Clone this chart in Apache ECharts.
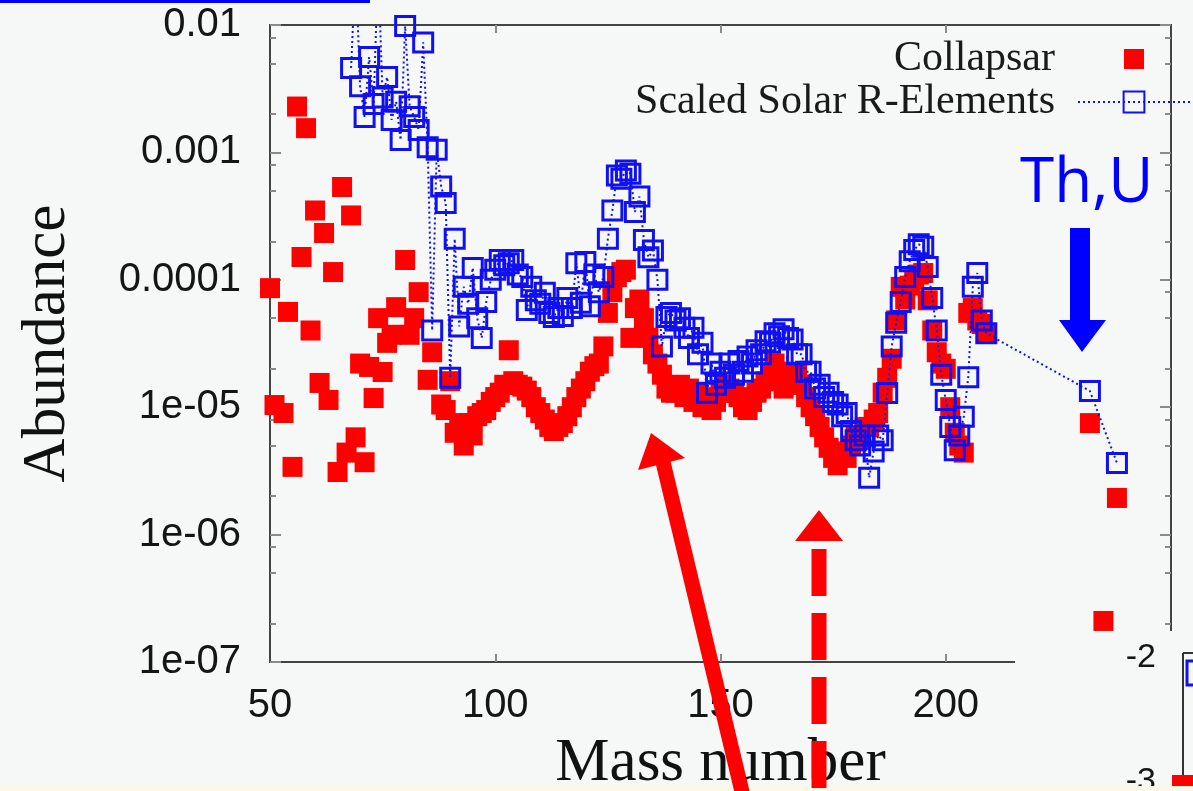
<!DOCTYPE html>
<html>
<head>
<meta charset="utf-8">
<script src="https://cdn.jsdelivr.net/npm/echarts@6.0.0/dist/echarts.min.js"></script>
<style>
html,body{margin:0;padding:0;background:#f5f8f6;}
#chart{width:1193px;height:791px;}
</style>
</head>
<body>
<div id="chart"></div>
<script>
// ---- data ----
const collA = [50,51,53,54,55,56,57,58,59,60,61,62,63,64,65,66,67,68,69,70,71,72,73,74,75,76,77,78,80,81,82,83,85,86,88,89,90,91,
  92,93,94,95,96,97,98,99,100,101,102,103,104,105,106,107,108,109,110,111,112,113,114,115,116,117,118,119,120,121,122,123,
  124,125,126,127,128,129,130,131,132,133,134,135,136,137,138,139,
  140,141,142,143,144,145,146,147,148,149,150,151,152,153,154,155,156,157,158,159,160,161,162,163,164,165,166,167,168,169,
  170,171,172,173,174,175,176,177,178,179,180,181,182,183,184,185,186,187,188,189,190,191,192,193,194,195,196,197,198,199,
  200,201,202,203,204,205,206,207,208,209,232,235,238];
const collV = [8.6e-5,1.04e-5,9.0e-6,5.6e-5,3.4e-6,2.29e-3,1.51e-4,1.55e-3,4.0e-5,3.5e-4,1.55e-5,2.33e-4,1.14e-5,1.15e-4,3.1e-6,5.35e-4,4.4e-6,3.2e-4,5.8e-6,2.2e-5,3.7e-6,2.07e-5,1.18e-5,5.0e-5,1.89e-5,3.2e-5,3.7e-5,6.1e-5,1.43e-4,3.7e-5,5.0e-5,8.0e-5,1.64e-5,2.7e-5,1.05e-5,9.5e-6,1.6e-5,6.3e-6,
  7.5e-6,5.0e-6,7.5e-6,6.0e-6,8.5e-6,9.0e-6,9.5e-6,1.1e-5,1.2e-5,1.3e-5,1.5e-5,2.8e-5,1.6e-5,1.5e-5,1.45e-5,1.35e-5,1.2e-5,1.0e-5,9.0e-6,8.0e-6,7.0e-6,6.5e-6,7.0e-6,7.5e-6,8.5e-6,1.0e-5,1.2e-5,1.4e-5,1.6e-5,1.9e-5,2.1e-5,2.2e-5,
  3.0e-5,5.5e-5,8.0e-5,1.05e-4,1.15e-4,1.2e-4,3.5e-5,6.0e-5,7.0e-5,5.0e-5,3.5e-5,2.6e-5,2.2e-5,1.8e-5,1.4e-5,1.3e-5,
  1.3e-5,1.5e-5,1.2e-5,1.4e-5,1.1e-5,1.3e-5,1.0e-5,1.2e-5,9.5e-6,1.1e-5,1.3e-5,1.5e-5,1.4e-5,1.3e-5,1.2e-5,1.0e-5,9.5e-6,1.1e-5,1.3e-5,1.4e-5,1.6e-5,1.8e-5,2.2e-5,1.6e-5,1.4e-5,1.5e-5,1.9e-5,1.8e-5,1.5e-5,1.2e-5,
  1.0e-5,8.5e-6,7.0e-6,5.8e-6,4.8e-6,4.0e-6,3.5e-6,4.5e-6,4.0e-6,5.0e-6,6.0e-6,5.5e-6,7.0e-6,7.0e-6,8.0e-6,9.0e-6,1.3e-5,1.7e-5,2.4e-5,4.8e-5,8.8e-5,7.0e-5,9.0e-5,1.0e-4,1.1e-4,1.13e-4,6.9e-5,4.0e-5,2.7e-5,2.2e-5,
  2.0e-5,1.0e-5,6.3e-6,5.0e-6,4.4e-6,5.5e-5,6.0e-5,4.8e-5,4.5e-5,3.8e-5,7.5e-6,2.1e-7,1.94e-6];

const solarA = [68,69,70,71,72,73,74,75,76,77,78,79,80,81,82,83,84,85,86,87,88,89,90,91,92,
  93,94,95,96,97,98,99,100,101,102,103,104,105,106,107,108,109,110,111,112,113,114,115,116,117,118,119,120,121,122,123,124,
  125,126,127,128,129,130,131,132,133,134,135,136,
  137,138,139,140,141,142,143,144,145,146,147,148,149,150,151,152,153,154,155,156,157,158,159,160,161,162,163,164,165,166,167,168,169,
  170,171,172,173,174,175,176,177,178,179,180,181,182,183,184,185,186,187,188,189,190,191,192,193,194,195,196,197,198,199,
  200,201,202,203,204,205,206,207,208,209,232,238];
const solarV = [4.6e-3,3.0e-2,3.3e-3,1.9e-3,5.6e-3,2.4e-3,3.0e-2,2.7e-3,3.9e-3,1.8e-3,2.5e-3,1.25e-3,9.8e-3,2.3e-3,1.9e-3,1.5e-3,7.3e-3,1.1e-3,4.0e-5,1.05e-3,5.4e-4,4.0e-4,1.7e-5,2.1e-4,4.3e-5,
  8.8e-5,6.5e-5,1.24e-4,5.0e-5,3.5e-5,6.7e-5,1.0e-4,1.2e-4,1.43e-4,1.3e-4,1.35e-4,1.43e-4,1.1e-4,1.05e-4,5.8e-5,8.8e-5,6.9e-5,6.5e-5,7.9e-5,5.5e-5,5.1e-5,6.0e-5,5.2e-5,7.2e-5,6.0e-5,1.35e-4,6.6e-5,1.38e-4,6.2e-5,1.1e-4,8.0e-5,1.05e-4,
  2.1e-4,3.5e-4,6.6e-4,6.2e-4,7.2e-4,6.8e-4,3.4e-4,4.5e-4,2.05e-4,1.5e-4,1.7e-4,1.0e-4,
  3.0e-5,5.1e-5,5.5e-5,4.8e-5,5.0e-5,4.2e-5,3.5e-5,4.2e-5,2.6e-5,3.2e-5,1.3e-5,2.2e-5,1.5e-5,1.9e-5,1.7e-5,2.2e-5,1.8e-5,2.3e-5,1.9e-5,2.5e-5,2.2e-5,2.8e-5,2.6e-5,3.3e-5,3.2e-5,3.8e-5,3.6e-5,4.1e-5,3.5e-5,3.4e-5,2.6e-5,2.6e-5,1.9e-5,
  1.9e-5,1.4e-5,1.5e-5,1.2e-5,1.3e-5,1.1e-5,1.05e-5,8.5e-6,9.0e-6,6.5e-6,5.5e-6,5.0e-6,6.0e-6,2.8e-6,4.5e-6,6.0e-6,5.5e-6,1.29e-5,3.0e-5,4.6e-5,6.7e-5,1.05e-4,1.4e-4,1.71e-4,1.9e-4,1.82e-4,1.26e-4,7.2e-5,4.0e-5,1.8e-5,
  1.14e-5,7.0e-6,4.6e-6,6.0e-6,8.4e-6,1.72e-5,8.8e-5,1.13e-4,4.8e-5,3.8e-5,1.34e-5,3.65e-6];

const xTickValues = [50, 100, 150, 200];
const xInnerTicks = [100, 150, 200];
const yTickValues = [1e-7, 1e-6, 1e-5, 1e-4, 1e-3, 1e-2];
const yTickLabels = ['1e-07', '1e-06', '1e-05', '0.0001', '0.001', '0.01'];
const yMinorTicks = [2e-7,5e-7,8e-7,2e-6,5e-6,8e-6,2e-5,5e-5,8e-5,2e-4,5e-4,8e-4,2e-3,5e-3,8e-3];

const collData = collA.map((a, i) => [a, collV[i]]);
const solarData = solarA.map((a, i) => [a, solarV[i]]);

function yLabel(v) {
  for (let i = 0; i < yTickValues.length; i++) {
    if (Math.abs(Math.log10(v) - Math.log10(yTickValues[i])) < 1e-6) return yTickLabels[i];
  }
  return '';
}

const BG = '#f5f8f6';
const FRAME = '#444';
const TICK = '#8a8a8a';
const sansLabel = {fontFamily: 'Liberation Sans', fontSize: 40, color: '#151515'};

function yAxisBase(pos, len, vals, showLabel) {
  return {
    type: 'log', logBase: 10, min: 1e-7, max: 1e-2, position: pos,
    axisLine: {show: false},
    axisTick: {show: true, inside: true, length: len, customValues: vals, lineStyle: {color: TICK, width: 2}},
    axisLabel: showLabel ? Object.assign({customValues: yTickValues, formatter: yLabel, margin: 29}, sansLabel) : {show: false},
    splitLine: {show: false}, minorTick: {show: false}
  };
}

const chart = echarts.init(document.getElementById('chart'), null, {renderer: 'canvas'});
const option = {
  animation: false,
  backgroundColor: BG,
  grid: {left: 270, right: 22, top: 25, bottom: 129, show: true, borderColor: FRAME, borderWidth: 2,
         backgroundColor: 'transparent', containLabel: false, outerBoundsMode: 'none'},
  legend: {
    orient: 'vertical', align: 'right', right: -3, top: 33,
    itemWidth: 112, itemHeight: 26, itemGap: 1, selectedMode: false,
    textStyle: {fontFamily: 'Liberation Serif', fontSize: 42, color: '#1a1a1a', padding: [0, 18, 0, 0]},
    data: [
      {name: 'Collapsar', icon: 'path://M0,0M46,0L66,0L66,20L46,20ZM112,20'},
      {name: 'Scaled Solar R-Elements'}
    ]
  },
  xAxis: [
    {
      type: 'value', min: 50, max: 250, position: 'bottom',
      axisLine: {show: false},
      axisTick: {show: true, inside: true, length: 8, customValues: xInnerTicks, lineStyle: {color: TICK, width: 2}},
      axisLabel: Object.assign({customValues: xTickValues, margin: 24}, sansLabel),
      splitLine: {show: false},
      name: 'Mass number', nameLocation: 'middle', nameGap: 71,
      nameTextStyle: {fontFamily: 'Liberation Serif', fontSize: 61, color: '#111'}
    },
    {
      type: 'value', min: 50, max: 250, position: 'top',
      axisLine: {show: false},
      axisTick: {show: true, inside: true, length: 8, customValues: xInnerTicks, lineStyle: {color: TICK, width: 2}},
      axisLabel: {show: false}, splitLine: {show: false}
    }
  ],
  yAxis: [
    Object.assign(yAxisBase('left', 11, yTickValues, true), {
      name: 'Abundance', nameLocation: 'middle', nameGap: 192, nameRotate: 90,
      nameTextStyle: {fontFamily: 'Liberation Serif', fontSize: 61, color: '#111'}
    }),
    yAxisBase('left', 6, yMinorTicks, false),
    yAxisBase('right', 11, yTickValues, false),
    yAxisBase('right', 6, yMinorTicks, false)
  ],
  series: [
    {
      name: 'Collapsar', type: 'scatter', data: collData,
      xAxisIndex: 0, yAxisIndex: 0,
      symbol: 'rect', symbolSize: 20,
      itemStyle: {color: '#ff0000', opacity: 1},
      silent: true, clip: true
    },
    {
      name: 'Scaled Solar R-Elements', type: 'line', data: solarData,
      xAxisIndex: 0, yAxisIndex: 0,
      symbol: 'rect', symbolSize: 19, showSymbol: true, showAllSymbol: true,
      lineStyle: {color: '#1212ee', width: 2, type: [2, 3]},
      itemStyle: {color: 'rgba(0,0,0,0)', borderColor: '#1010f0', borderWidth: 3},
      silent: true, clip: true
    }
  ],
  graphic: [
    // cover of the neighbouring inset (bottom right)
    {type: 'rect', z: 100, shape: {x: 1015, y: 631, width: 180, height: 162}, style: {fill: BG}},
    {type: 'line', z: 101, shape: {x1: 1183, y1: 653, x2: 1183, y2: 791}, style: {stroke: '#333', lineWidth: 2}},
    {type: 'line', z: 101, shape: {x1: 1183, y1: 653, x2: 1193, y2: 653}, style: {stroke: '#333', lineWidth: 2}},
    {type: 'rect', z: 101, shape: {x: 1187, y: 661, width: 22, height: 24}, style: {fill: 'none', stroke: '#1010f0', lineWidth: 3}},
    {type: 'rect', z: 101, shape: {x: 1172, y: 775, width: 22, height: 22}, style: {fill: '#ff0000'}},
    {type: 'text', z: 101, style: {text: '-2', x: 1156, y: 658, align: 'right', verticalAlign: 'middle', font: '34px "Liberation Sans"', fill: '#151515'}},
    {type: 'text', z: 101, style: {text: '-3', x: 1156, y: 782, align: 'right', verticalAlign: 'middle', font: '34px "Liberation Sans"', fill: '#151515'}},
    // strips at the picture edges
    {type: 'rect', z: 102, shape: {x: 0, y: 786, width: 1193, height: 6}, style: {fill: '#fbf9e6'}},
    {type: 'rect', z: 102, shape: {x: 0, y: 0, width: 370, height: 3}, style: {fill: '#0000ff'}},
    // Th,U annotation
    {type: 'text', z: 110, style: {text: 'Th,U', x: 1020, y: 184, verticalAlign: 'middle', font: '62px "Open Sans"', fill: '#0000ff'}},
    {type: 'rect', z: 110, shape: {x: 1070, y: 228, width: 20, height: 94}, style: {fill: '#0000ff'}},
    {type: 'polygon', z: 110, shape: {points: [[1059, 320], [1106, 320], [1082, 352]]}, style: {fill: '#0000ff'}},
    // red solid arrow
    {type: 'line', z: 110, shape: {x1: 663, y1: 462, x2: 744, y2: 800}, style: {stroke: '#ff0000', lineWidth: 15}},
    {type: 'polygon', z: 110, shape: {points: [[651, 433], [638, 470], [685, 458]]}, style: {fill: '#ff0000'}},
    // red dashed arrow
    {type: 'line', z: 110, shape: {x1: 819, y1: 549, x2: 819, y2: 800}, style: {stroke: '#ff0000', lineWidth: 15, lineDash: [47, 17], lineCap: 'butt'}},
    {type: 'polygon', z: 110, shape: {points: [[795, 541], [843, 541], [819, 510]]}, style: {fill: '#ff0000'}}
  ]
};
chart.setOption(option);
</script>
</body>
</html>
